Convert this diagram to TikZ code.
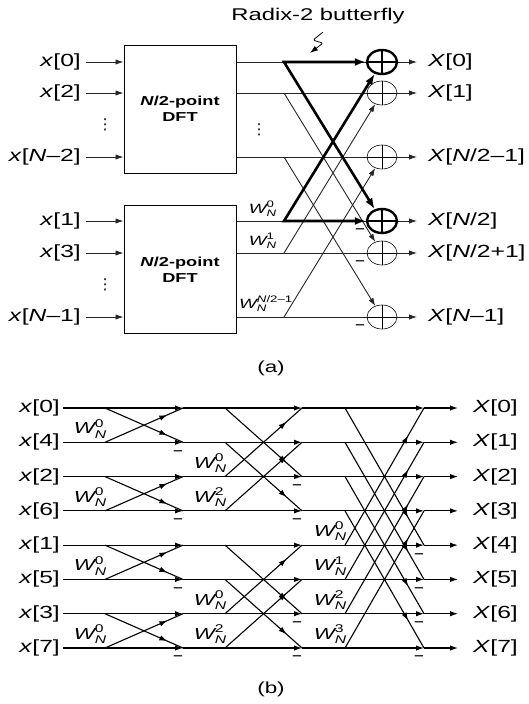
\documentclass[tikz,border=0pt]{standalone}
\usepackage{amsmath}
\usepackage{fontspec}
\setmainfont{Liberation Sans}[FakeStretch=1.40]
\newfontfamily\symfont{DejaVu Sans}
\usetikzlibrary{arrows.meta,positioning,calc,shapes.geometric,decorations.markings}
% twiddle factor W_N^k in the sans text font
\newcommand{\twf}[1]{$\textit{W}^{\textup{#1}}_{\textit{N}}$}

\begin{document}
\begin{tikzpicture}[
  x=1pt,y=-1pt,>={Latex[length=8pt,width=5.4pt]},
  lbl/.style={font=\fontsize{17.6}{18}\selectfont,inner sep=0pt},
  inlbl/.style={lbl,anchor=east,inner xsep=#1},
  outlbl/.style={lbl,anchor=west,inner xsep=#1},
  dftbox/.style={draw,line width=1pt,minimum width=112pt,minimum height=128pt,
    align=center,font=\fontsize{13}{16}\selectfont\bfseries},
  sumnode/.style={ellipse,draw,line width=#1,minimum width=30pt,
    minimum height=24pt,inner sep=0pt,
    path picture={\draw[line width=#1]
      (path picture bounding box.north)--(path picture bounding box.south)
      (path picture bounding box.west)--(path picture bounding box.east);}},
  sumnode/.default=.6pt,
  wire/.style={line width=.9pt,draw=black!85},
  bold wire/.style={line width=2.6pt,>={Latex[length=11pt,width=8pt]}},
  flow/.style={->,line width=1.1pt},
  diag/.style={line width=1.1pt,postaction={decorate},
    decoration={markings,mark=at position .8 with {\arrow{Latex[length=8pt,width=5.4pt]}}}},
  twa/.style={font=\fontsize{13.5}{13.5}\selectfont,inner sep=0pt,anchor=south east},
  twb/.style={font=\fontsize{16}{16}\selectfont,inner sep=0pt,anchor=south east},
  minus/.style={font=\fontsize{12}{12}\selectfont\bfseries,inner sep=0pt},
  dots/.style={font=\fontsize{15}{15}\selectfont\symfont,inner sep=0pt},
  squig/.style={->,line width=.8pt,rounded corners=2pt}
]
\useasboundingbox (0,0) rectangle (529,704);
% ---------------- (a) two N/2-point DFTs and the last stage
\node[dftbox] (dfta) at (180,109) {\textit{N}/2-point\\DFT};
\node[dftbox] (dftb) at (180,269.5) {\textit{N}/2-point\\DFT};
\foreach \nm/\txt/\y in {i0/0/62,i1/2/93,i2/\textit{N}–2/157}{
  \node[inlbl=5pt] (\nm) at (86,\y) {\textit{x}[\txt]};
  \draw[wire,->] (\nm) -- (\nm -| dfta.west);}
\foreach \nm/\txt/\y in {i3/1/221,i4/3/253,i5/\textit{N}–1/317}{
  \node[inlbl=5pt] (\nm) at (86,\y) {\textit{x}[\txt]};
  \draw[wire,->] (\nm) -- (\nm -| dftb.west);}
\node[dots] (dtsa) at (105,125) {⋮};
\node[dots] (dtsb) at (105,285) {⋮};
\node[dots] (dtsc) at (259,130) {⋮};
% adders
\node[sumnode=2.4pt] (s0) at (382,62) {};
\node[sumnode] (s1) at (382,93) {};
\node[sumnode] (s2) at (382,157) {};
\node[sumnode=2.4pt] (s3) at (382,221) {};
\node[sumnode] (s4) at (382,253) {};
\node[sumnode] (s5) at (382,317) {};
\foreach \k in {0,1,2} \draw[wire] (dfta.east |- s\k) -- (s\k);
\foreach \k in {3,4,5} \draw[wire] (dftb.east |- s\k) -- (s\k);
\foreach \k/\y in {0/62,1/93,2/157,3/221,4/253,5/317}
  \coordinate (b\k) at (284,\y);
% thin cross connections, then the highlighted butterfly
\draw[wire,->] (b1) -- (s4);
\draw[wire,->] (b4) -- (s1);
\draw[wire,->] (b2) -- (s5);
\draw[wire,->] (b5) -- (s2);
\draw[bold wire,<->] (s0) -- (b0) -- (s3);
\draw[bold wire,<->] (s3) -- (b3) -- (s0);
\foreach \k/\txt in {0/0,1/1,2/{\textit{N}/2–1},3/{\textit{N}/2},4/{\textit{N}/2+1},5/{\textit{N}–1}}{
  \node[outlbl=11pt] (o\k) at ($(s\k)+(35,0)$) {\textit{X}[\txt]};
  \draw[wire,->] (s\k) -- (o\k);}
\node[twa] (wa0) at ([xshift=-7pt,yshift=4pt]b3) {\twf{0}};
\node[twa] (wa1) at ([xshift=-7pt,yshift=4pt]b4) {\twf{1}};
\node[twa] (wa2) at ([xshift=9pt,yshift=5pt]b5) {\twf{\textit{N}/2–1}};
\foreach \k in {3,4,5}
  \node[minus] (ma\k) at ([xshift=-22pt,yshift=-10pt]s\k) {–};
\node[font=\fontsize{17}{17}\selectfont,inner sep=0pt] (radix) at (318,16) {Radix-2 butterfly};
\coordinate (bfly) at (310,53);
\draw[squig] ([xshift=5pt,yshift=-8pt]radix.south) -- ++(-10,8) -- ++(10,3) -- (bfly);
\node[font=\fontsize{16}{16}\selectfont,inner sep=0pt] (capa) at (271,368) {(a)};
% ---------------- (b) 8-point flow graph
\foreach \r in {0,...,7}{
  \pgfmathsetmacro\yy{408+34.2857*\r}
  \foreach \s/\xx in {0/63,1/183,2/302,3/424,4/458}
    \coordinate (n\s-\r) at (\xx,\yy);
  \foreach \s/\xx in {1/105,2/225,3/345}
    \coordinate (d\s-\r) at (\xx,\yy);}
\foreach \r/\k in {0/0,1/4,2/2,3/6,4/1,5/5,6/3,7/7}{
  \node[inlbl=3pt] (in\r) at (n0-\r) {\textit{x}[\k]};
  \node[outlbl=15pt] (out\r) at (n4-\r) {\textit{X}[\r]};
  \draw[flow] (in\r) -- (n1-\r);
  \draw[flow] (n1-\r) -- (n2-\r);
  \draw[flow] (n2-\r) -- (n3-\r);
  \draw[flow] (n3-\r) -- (out\r);}
% butterflies of span h in stage s
\foreach \s/\h in {1/1,2/2,3/4}{
  \foreach \r in {0,...,7}{
    \pgfmathtruncatemacro\bit{mod(floor(\r/\h),2)}
    \pgfmathtruncatemacro\p{\r+\h-2*\h*\bit}
    \draw[diag] (d\s-\r) -- (n\s-\p);
    \ifnum\bit=1
      \pgfmathtruncatemacro\ex{mod(\r,\h)*4/\h}
      \node[twb] (wb\s-\r) at ([xshift=2pt,yshift=4pt]d\s-\r) {\twf{\ex}};
      \node[minus] (mb\s-\r) at ([xshift=-5pt,yshift=-10pt]n\s-\r) {–};
    \fi}}
\node[font=\fontsize{16}{16}\selectfont,inner sep=0pt] (capb) at (271,689) {(b)};
\end{tikzpicture}
\end{document}
